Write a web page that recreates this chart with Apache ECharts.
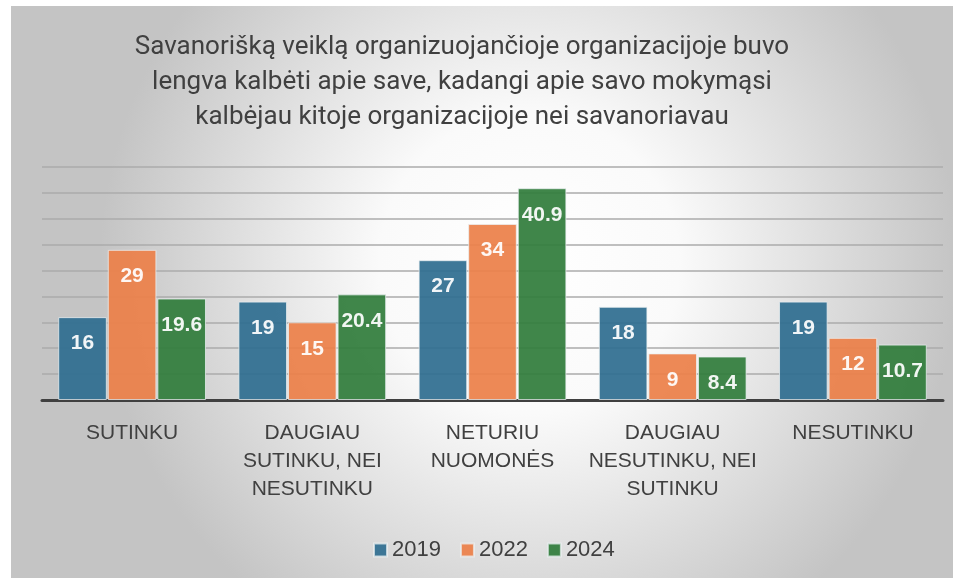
<!DOCTYPE html>
<html>
<head>
    <meta charset="utf-8" />
    <title></title>
    <script src="https://cdn.jsdelivr.net/npm/echarts@6/dist/echarts.min.js"></script>
    <style>
        body { margin: 0; background: #fff; }
        #main { position: absolute; left: 11px; top: 6px; width: 942px; height: 572px; }
    </style>
</head>
<body>
    <div id="main"></div>
    <script type="text/javascript">
        var categories = ['SUTINKU', 'DAUGIAU\nSUTINKU, NEI\nNESUTINKU', 'NETURIU\nNUOMONĖS', 'DAUGIAU\nNESUTINKU, NEI\nSUTINKU', 'NESUTINKU'];
        var years = ['2019', '2022', '2024'];
        var v2019 = [16, 19, 27, 18, 19];
        var v2022 = [29, 15, 34, 9, 12];
        var v2024 = [19.6, 20.4, 40.9, 8.4, 10.7];
        var colors = ['#2f6e90', '#ec8049', '#327d3c'];

        var myChart = echarts.init(document.getElementById('main'));

        function makeSeries(name, data, color) {
            return {
                name: name,
                type: 'bar',
                data: data,
                barGap: '2%',
                barCategoryGap: '18%',
                itemStyle: { color: color, opacity: 0.93, borderColor: 'rgba(235,240,242,0.8)', borderWidth: 1 },
                label: {
                    show: true,
                    position: 'insideTop',
                    distance: 16,
                    color: '#fff',
                    fontFamily: 'Liberation Sans',
                    fontWeight: 'bold',
                    fontSize: 21
                }
            };
        }

        var option = {
            backgroundColor: {
                type: 'radial', x: 0.55, y: 0.45, r: 0.75,
                colorStops: [{ offset: 0, color: '#ffffff' }, { offset: 0.35, color: '#fafafa' }, { offset: 1, color: '#c4c4c4' }]
            },
            title: {
                text: 'Savanorišką veiklą organizuojančioje organizacijoje buvo\nlengva kalbėti apie save, kadangi apie savo mokymąsi\nkalbėjau kitoje organizacijoje nei savanoriavau',
                left: 446,
                top: 19,
                textAlign: 'center',
                textStyle: { fontFamily: 'Roboto', fontWeight: 'normal', fontSize: 26, lineHeight: 35, color: '#404040' }
            },
            legend: {
                data: years,
                left: 357,
                top: 528,
                itemWidth: 13,
                itemHeight: 13,
                itemGap: 19,
                icon: 'rect',
                textStyle: { fontFamily: 'Liberation Sans', fontSize: 22, color: '#404040' }
            },
            grid: { left: 31, right: 10, top: 161, bottom: 178, containLabel: false },
            xAxis: {
                type: 'category',
                data: categories,
                axisLine: { lineStyle: { color: '#404040', width: 3 } },
                axisTick: { show: false },
                axisLabel: { margin: 19, fontFamily: 'Liberation Sans', fontSize: 21, lineHeight: 28, color: '#404040', interval: 0 }
            },
            yAxis: {
                type: 'value',
                min: 0,
                max: 45,
                interval: 5,
                axisLabel: { show: false },
                axisLine: { show: false },
                axisTick: { show: false },
                splitLine: { lineStyle: { color: '#ababab', width: 1.5 } }
            },
            series: [
                makeSeries(years[0], v2019, colors[0]),
                makeSeries(years[1], v2022, colors[1]),
                makeSeries(years[2], v2024, colors[2])
            ]
        };
        myChart.setOption(option);
    </script>
</body>
</html>
